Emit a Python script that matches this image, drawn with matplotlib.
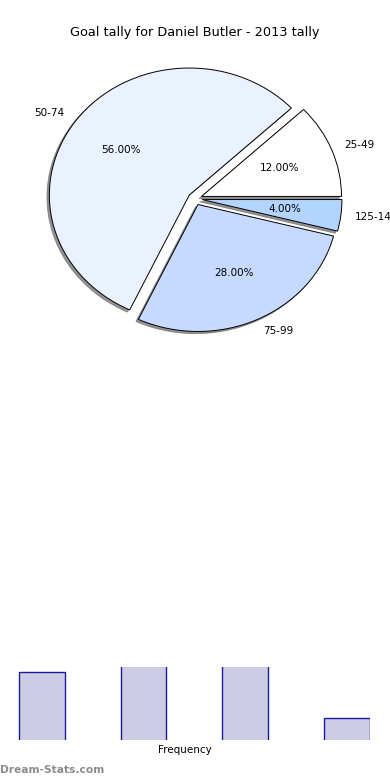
import matplotlib.pyplot as plt
import numpy as np

# data
categories = ["25-49", "50-74", "75-99", "125-149"]
shares = [12, 56, 28, 4]
frequency = [3, 14, 7, 1]
pie_colors = ["#ffffff", "#eaf1ff", "#c6d9ff", "#b3d4ff"]

fig = plt.figure(figsize=(3.9, 7.8), dpi=100)

# pie on top
ax = fig.add_axes([0.0513, 0.5417, 0.8974, 0.407])
wedges, texts, autotexts = ax.pie(
    shares, labels=categories, colors=pie_colors, autopct="%.2f%%",
    explode=[0.05] * len(shares),
    shadow=dict(ox=-0.012, oy=-0.012, color="#777777", alpha=0.8),
    startangle=0,
    wedgeprops=dict(edgecolor="black", linewidth=0.7),
    textprops=dict(fontsize=7.5))
ax.set_aspect("auto")
ax.set_xlim(-1.25, 1.25)
ax.set_ylim(-1.25, 1.25)
ax.set_title("Goal tally for Daniel Butler - 2013 tally", fontsize=9.3, pad=3)
for t in texts:
    t.set_clip_on(False)

# bar chart at the bottom (cut off at the top)
bx = fig.add_axes([0.0, 0.0513, 370 / 390, 0.0936])
x = np.arange(len(frequency))
bx.bar(x, frequency, width=0.45, color="#ccccE6", edgecolor="#1a1aa0", linewidth=1)
bx.set_xlim(-0.412, 3.226)
bx.set_ylim(0.03, 3.22)
bx.set_xticks([])
bx.set_yticks([])
for s in bx.spines.values():
    s.set_visible(False)
bx.set_xlabel("Frequency", fontsize=7.5, labelpad=3.5)

fig.text(0.0, 0.0128, "Dream-Stats.com", color="#8c8c8c", fontsize=7.7,
         fontweight="bold", ha="left", va="center")

fig.savefig("out.png", dpi=100)
